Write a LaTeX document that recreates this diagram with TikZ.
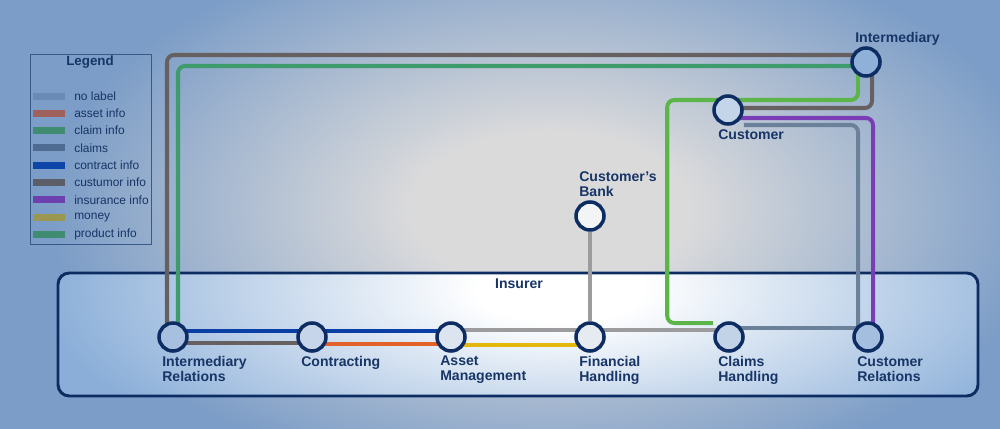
\documentclass[tikz,border=0pt]{standalone}
\usepackage{fontspec}
\setmainfont{Liberation Sans}
\usetikzlibrary{calc,positioning}

\definecolor{bgedge}{HTML}{7C9DC7}
\definecolor{bgmid}{HTML}{DADADB}
\definecolor{boxedge}{HTML}{8AAED8}
\definecolor{navy}{HTML}{0C2C62}
\definecolor{txtnavy}{HTML}{173566}
\definecolor{lnblue}{HTML}{0A3FA6}
\definecolor{lnorange}{HTML}{E2622A}
\definecolor{lnyellow}{HTML}{E3B70C}
\definecolor{lngray}{HTML}{9C9C9E}
\definecolor{lnbrown}{HTML}{676060}
\definecolor{lnteal}{HTML}{3E9B6C}
\definecolor{lngreen}{HTML}{5BB548}
\definecolor{lnpurple}{HTML}{7A3DB6}
\definecolor{lnslate}{HTML}{6B8099}
% station fills
\definecolor{fIR}{HTML}{A7C0DF}
\definecolor{fCO}{HTML}{C6D5EA}
\definecolor{fAM}{HTML}{DCE4EF}
\definecolor{fFH}{HTML}{E6EBF2}
\definecolor{fCH}{HTML}{C2D3E8}
\definecolor{fCR}{HTML}{A3BEDF}
\definecolor{fCB}{HTML}{F3F4F5}
\definecolor{fCU}{HTML}{C5D5E9}
\definecolor{fIM}{HTML}{8FB1D9}

\pgfdeclareradialshading{bgshade}{\pgfpoint{0bp}{0bp}}{color(0bp)=(bgmid); color(7bp)=(bgmid); color(25bp)=(bgedge); color(50bp)=(bgedge)}
\pgfdeclareradialshading{boxshade}{\pgfpoint{0bp}{0bp}}{color(0bp)=(white); color(4bp)=(white); color(25bp)=(boxedge); color(50bp)=(boxedge)}

\pgfdeclarelayer{back}
\pgfdeclarelayer{lines}
\pgfsetlayers{back,lines,main}

\tikzset{
  stn/.style={circle,draw=navy,line width=2.5pt,minimum size=0.7cm,inner sep=0pt},
  lbl/.style={font=\fontsize{10}{10.6}\selectfont\bfseries,text=txtnavy,align=left,inner sep=0pt},
  ln/.style={line width=2.85pt,rounded corners=5pt},
  legtext/.style={font=\fontsize{8.5}{10}\selectfont,text=txtnavy,inner sep=0pt,anchor=west}
}

\begin{document}
\begin{tikzpicture}[x=0.025cm,y=-0.025cm]
    \useasboundingbox (0,0) rectangle (1000,428);
    \begin{pgfonlayer}{back}
        \fill[bgedge] (-5,-5) rectangle (1005,433);
        \begin{scope}
            \clip (-5,-5) rectangle (1005,433);
            \shade[shading=bgshade] (50,-70) rectangle (1050,490);
        \end{scope}
        % insurer
        \begin{scope}
            \clip[rounded corners=8pt] (58,273) rectangle (978,396);
            \shade[shading=boxshade] (40,90) rectangle (1080,490);
        \end{scope}
        \draw[navy,line width=2.1pt,rounded corners=8pt] (58,273) rectangle (978,396);
        % legend
        \draw[draw=navy!60!bgedge,line width=0.7pt] (30,54) rectangle (151,244);
    \end{pgfonlayer}

    \node[font=\fontsize{9.5}{11}\selectfont\bfseries,text=txtnavy,inner sep=0pt] (legtitle) at (90,62) {Legend};
    \foreach \c/\t [count=\i from 0] in {6A8CB4/no label,9E615B/asset info,3F8C70/claim info,4E6B91/claims,0E45A8/contract info,5B5E66/custumor info,6D40B0/insurance info,9A9850/money,3F8C70/product info}{
        \definecolor{sw}{HTML}{\c}
        \fill[sw] (33,{96+17.3*\i-3.5}) rectangle (65,{96+17.3*\i+3.5});
        \node[legtext] (leg\i) at (74,{96+17.3*\i}) {\t};
    }

    \node[lbl] (insurer) at (519,284) {Insurer};

    % stations
    \node[stn,fill=fIR] (IR) at (173,337) {};
    \node[stn,fill=fCO] (CO) at (312,337) {};
    \node[stn,fill=fAM] (AM) at (451,337) {};
    \node[stn,fill=fFH] (FH) at (590,337) {};
    \node[stn,fill=fCH] (CH) at (729,337) {};
    \node[stn,fill=fCR] (CR) at (868,337) {};
    \node[stn,fill=fCB] (CB) at (590,216) {};
    \node[stn,fill=fCU] (CU) at (728,110) {};
    \node[stn,fill=fIM] (IM) at (866,62) {};

    \node[lbl,anchor=north west] (IRl) at ($(IR)+(-11,19)$) {Intermediary\\Relations};
    \node[lbl,anchor=north west] (COl) at ($(CO)+(-11,19)$) {Contracting};
    \node[lbl,anchor=north west] (AMl) at ($(AM)+(-11,19)$) {Asset\\Management};
    \node[lbl,anchor=north west] (FHl) at ($(FH)+(-11,19)$) {Financial\\Handling};
    \node[lbl,anchor=north west] (CHl) at ($(CH)+(-11,19)$) {Claims\\Handling};
    \node[lbl,anchor=north west] (CRl) at ($(CR)+(-11,19)$) {Customer\\Relations};
    \node[lbl,anchor=north west] (CUl) at ($(CU)+(-10,19)$) {Customer};
    \node[lbl,anchor=south west] (IMl) at ($(IM)+(-11,-16)$) {Intermediary};
    \node[lbl,anchor=south west] (CBl) at ($(CB)+(-11,-19)$) {Customer's\\Bank};

    \begin{pgfonlayer}{lines}
        % custumor info
        \draw[ln,lnbrown] ($(IR)+(-6,0)$) |- ($(IM)+(0,-7)$);
        \draw[ln,lnbrown] ($(IM)+(6,0)$) |- ($(CU)+(0,-2)$);
        \draw[ln,lnbrown] ($(IR)+(0,6)$) -- ($(CO)+(0,6)$);
        % product info
        \draw[ln,lnteal] ($(IR)+(5,0)$) |- ($(IM)+(0,4)$);
        \draw[ln,lngreen] ($(IM)+(-8,0)$) |- ($(CU)+(0,-10)$) -| ($(CH.west)+(-46,-14)$) -- ($(CH.west)+(0,-14)$);
        % insurance info
        \draw[ln,lnpurple] ($(CU)+(0,8)$) -| ($(CR)+(5,0)$);
        % claims
        \draw[ln,lnslate] ($(CU.east)+(0,15)$) -| ($(CR)+(-10,0)$);
        \draw[ln,lnslate] ($(CH)+(0,-9)$) -- ($(CR)+(0,-9)$);
        % no label
        \draw[ln,lngray] ($(AM)+(0,-7)$) -- ($(CH)+(0,-7)$);
        \draw[ln,lngray] (CB) -- (FH);
        % money
        \draw[ln,lnyellow] ($(AM)+(0,8)$) -- ($(FH)+(0,8)$);
        % contract info
        \draw[ln,lnblue] ($(IR)+(0,-6)$) -- ($(AM)+(0,-6)$);
        % asset info
        \draw[ln,lnorange] ($(CO)+(0,7)$) -- ($(AM)+(0,7)$);
    \end{pgfonlayer}
\end{tikzpicture}
\end{document}
